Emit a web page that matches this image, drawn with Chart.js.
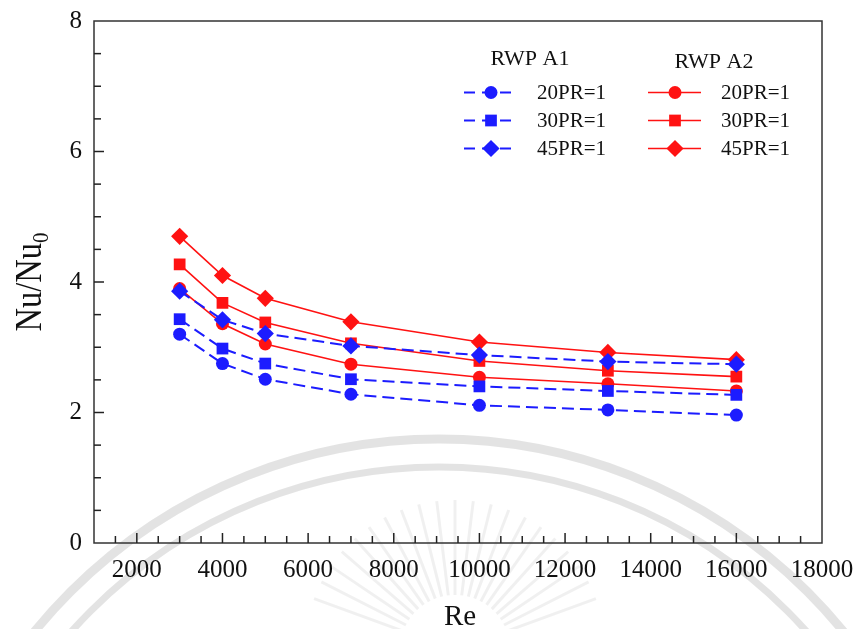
<!DOCTYPE html>
<html>
<head>
<meta charset="utf-8">
<script src="https://cdn.jsdelivr.net/npm/chart.js@4/dist/chart.umd.min.js"></script>
<style>
  html, body { margin: 0; padding: 0; background: #fff; }
  #wrap { width: 855px; height: 629px; position: relative; }
</style>
</head>
<body>
<div id="wrap"><canvas id="c" width="855" height="629"></canvas></div>
<script>
// Reynolds numbers tested
const reynolds = [3000, 4000, 5000, 7000, 10000, 13000, 16000];

// Nu/Nu0 for the RWP A1 configuration
const a1_20PR = [3.20, 2.75, 2.51, 2.28, 2.11, 2.04, 1.96];
const a1_30PR = [3.43, 2.98, 2.75, 2.51, 2.40, 2.33, 2.27];
const a1_45PR = [3.86, 3.42, 3.21, 3.02, 2.88, 2.78, 2.74];

// Nu/Nu0 for the RWP A2 configuration
const a2_20PR = [3.90, 3.36, 3.05, 2.74, 2.54, 2.44, 2.33];
const a2_30PR = [4.27, 3.68, 3.38, 3.06, 2.79, 2.64, 2.55];
const a2_45PR = [4.70, 4.10, 3.75, 3.39, 3.08, 2.92, 2.81];

// Axis tick labels
const xTickValues = [2000, 4000, 6000, 8000, 10000, 12000, 14000, 16000, 18000];
const yTickValues = [0, 2, 4, 6, 8];

// Legend text
const groupTitles = ['RWP A1', 'RWP A2'];
const pitchLabels = ['20PR=1', '30PR=1', '45PR=1'];

const BLUE = '#1c1cff';
const RED = '#ff1212';
const SERIF = '"Liberation Serif", "Times New Roman", serif';
const shapes = ['circle', 'rect', 'rectRot'];
const radii = [6.5, 8.3, 8.6];

function pts(vals) {
  return reynolds.map((re, i) => ({ x: re, y: vals[i] }));
}

function makeSet(label, vals, color, k, dashed) {
  return {
    label: label,
    data: pts(vals),
    borderColor: color,
    backgroundColor: color,
    borderWidth: dashed ? 2 : 1.6,
    borderDash: dashed ? [12, 6] : [],
    pointStyle: shapes[k],
    pointRadius: radii[k],
    pointHoverRadius: radii[k],
    pointBorderWidth: 0,
    pointBackgroundColor: color,
    tension: 0,
    fill: false
  };
}

const datasets = [
  makeSet('RWP A1 ' + pitchLabels[0], a1_20PR, BLUE, 0, true),
  makeSet('RWP A1 ' + pitchLabels[1], a1_30PR, BLUE, 1, true),
  makeSet('RWP A1 ' + pitchLabels[2], a1_45PR, BLUE, 2, true),
  makeSet('RWP A2 ' + pitchLabels[0], a2_20PR, RED, 0, false),
  makeSet('RWP A2 ' + pitchLabels[1], a2_30PR, RED, 1, false),
  makeSet('RWP A2 ' + pitchLabels[2], a2_45PR, RED, 2, false)
];

// Faint seal watermark behind the plot
const watermark = {
  id: 'watermark',
  beforeDraw(chart) {
    const ctx = chart.ctx;
    ctx.save();
    ctx.fillStyle = '#fff';
    ctx.fillRect(0, 0, chart.width, chart.height);
    ctx.strokeStyle = 'rgba(0,0,0,0.11)';
    ctx.lineWidth = 9;
    ctx.beginPath();
    ctx.arc(439, 960, 521, Math.PI, 2 * Math.PI);
    ctx.stroke();
    ctx.lineWidth = 7;
    ctx.beginPath();
    ctx.arc(439, 960, 493, Math.PI, 2 * Math.PI);
    ctx.stroke();
    ctx.strokeStyle = 'rgba(0,0,0,0.06)';
    ctx.lineWidth = 3;
    for (let a = 200; a <= 340; a += 7) {
      const r = a * Math.PI / 180;
      ctx.beginPath();
      ctx.moveTo(455 + Math.cos(r) * 55, 650 + Math.sin(r) * 55);
      ctx.lineTo(455 + Math.cos(r) * 150, 650 + Math.sin(r) * 150);
      ctx.stroke();
    }
    ctx.restore();
  }
};

// Frame, inward major/minor ticks, axis titles and the two-column legend
const decorations = {
  id: 'decorations',
  afterDraw(chart) {
    const ctx = chart.ctx;
    const a = chart.chartArea;
    const xs = chart.scales.x, ys = chart.scales.y;
    ctx.save();

    // frame
    ctx.strokeStyle = '#333';
    ctx.lineWidth = 1.5;
    ctx.strokeRect(a.left, a.top, a.right - a.left, a.bottom - a.top);

    // x ticks: major every 2000, minor every 500
    ctx.lineWidth = 1.5;
    ctx.strokeStyle = '#222';
    for (let v = 1500; v < 18000; v += 500) {
      const px = xs.getPixelForValue(v);
      const len = (v % 2000 === 0) ? 10 : 7;
      ctx.beginPath();
      ctx.moveTo(px, a.bottom);
      ctx.lineTo(px, a.bottom - len);
      ctx.stroke();
    }
    // y ticks: major every 2, minor every 0.5
    for (let v = 0.5; v < 8; v += 0.5) {
      const py = ys.getPixelForValue(v);
      const len = (Math.abs(v % 2) < 1e-9) ? 10 : 7;
      ctx.beginPath();
      ctx.moveTo(a.left, py);
      ctx.lineTo(a.left + len, py);
      ctx.stroke();
    }

    // axis titles
    ctx.fillStyle = '#111';
    ctx.font = '29px ' + SERIF;
    ctx.textAlign = 'center';
    ctx.textBaseline = 'alphabetic';
    ctx.fillText('Re', 460, 625);

    ctx.save();
    ctx.translate(41, 282);
    ctx.rotate(-Math.PI / 2);
    ctx.scale(0.88, 1);
    const main = 'Nu/Nu';
    ctx.font = '37px ' + SERIF;
    const w1 = ctx.measureText(main).width;
    ctx.font = '24px ' + SERIF;
    const w2 = ctx.measureText('0').width;
    const start = -(w1 + w2) / 2;
    ctx.textAlign = 'left';
    ctx.font = '37px ' + SERIF;
    ctx.fillText(main, start, 0);
    ctx.font = '24px ' + SERIF;
    ctx.fillText('0', start + w1, 7);
    ctx.restore();

    // legend
    const groups = [
      { x0: 464, color: BLUE, dashed: true, header: groupTitles[0], hx: 530, hy: 59 },
      { x0: 648, color: RED, dashed: false, header: groupTitles[1], hx: 714, hy: 62 }
    ];
    groups.forEach((g) => {
      ctx.fillStyle = '#111';
      ctx.font = '22px ' + SERIF;
      ctx.textAlign = 'center';
      ctx.textBaseline = 'middle';
      ctx.fillText(g.header, g.hx, g.hy);
      pitchLabels.forEach((lab, i) => {
        const y = 92.5 + i * 28;
        ctx.strokeStyle = g.color;
        ctx.lineWidth = g.dashed ? 2 : 1.6;
        ctx.setLineDash(g.dashed ? [11, 7] : []);
        ctx.beginPath();
        ctx.moveTo(g.x0, y);
        ctx.lineTo(g.x0 + 53, y);
        ctx.stroke();
        ctx.setLineDash([]);
        ctx.fillStyle = g.color;
        Chart.helpers.drawPoint(ctx, {
          pointStyle: shapes[i], radius: radii[i], rotation: 0, borderWidth: 0
        }, g.x0 + 27, y);
        ctx.fillStyle = '#111';
        ctx.font = '21px ' + SERIF;
        ctx.textAlign = 'left';
        ctx.textBaseline = 'middle';
        ctx.fillText(lab, g.x0 + 73, y + 1);
      });
    });
    ctx.restore();
  }
};

const tickFont = { family: SERIF, size: 25 };

new Chart(document.getElementById('c'), {
  type: 'line',
  data: { datasets: datasets },
  options: {
    responsive: false,
    animation: false,
    devicePixelRatio: 1,
    layout: { padding: { left: 0, right: 33, top: 21, bottom: 0 } },
    plugins: { legend: { display: false }, tooltip: { enabled: false } },
    scales: {
      x: {
        type: 'linear',
        min: 1000,
        max: 18000,
        afterBuildTicks: (s) => { s.ticks = xTickValues.map(v => ({ value: v })); },
        afterFit: (s) => {
          s.height = 86;
          s.paddingLeft = 0; s.paddingRight = 0;
        },
        grid: { display: false, drawTicks: false },
        border: { display: false },
        ticks: {
          padding: 12, font: tickFont, color: '#111',
          maxRotation: 0, autoSkip: false,
          callback: (v) => String(v)
        }
      },
      y: {
        type: 'linear',
        min: 0,
        max: 8,
        afterBuildTicks: (s) => { s.ticks = yTickValues.map(v => ({ value: v })); },
        afterFit: (s) => {
          s.width = 94;
          s.paddingTop = 0; s.paddingBottom = 0;
        },
        grid: { display: false, drawTicks: false },
        border: { display: false },
        ticks: { padding: 12, font: tickFont, color: '#111', callback: (v) => String(v) }
      }
    }
  },
  plugins: [watermark, decorations]
});
</script>
</body>
</html>
